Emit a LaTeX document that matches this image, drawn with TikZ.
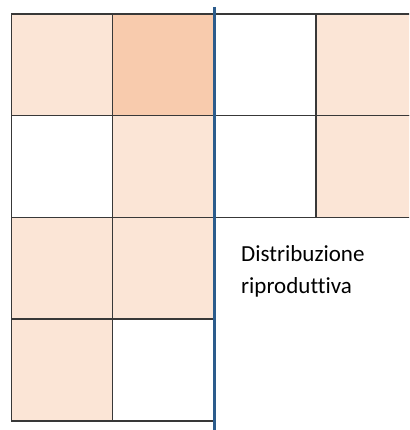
\documentclass[tikz,border=0pt]{standalone}
\usepackage{fontspec}
\setmainfont{Carlito}[Ligatures=NoCommon]
\definecolor{cellL}{HTML}{FBE5D6}
\definecolor{cellD}{HTML}{F8CBAD}
\definecolor{gridline}{HTML}{383838}
\definecolor{divider}{RGB}{44,92,140}
\tikzset{
  cell/.style={draw=none, minimum width=101pt, minimum height=101.75pt, inner sep=0pt, anchor=north west, outer sep=0pt},
  lite/.style={cell, fill=cellL},
  dark/.style={cell, fill=cellD},
  blank/.style={cell, fill=white},
  border/.style={draw=gridline, line width=1.5pt},
  divline/.style={draw=divider, line width=3pt},
  lbl/.style={font=\fontsize{23}{32}\selectfont, align=left, inner sep=0pt, anchor=base west}
}
\begin{document}
\begin{tikzpicture}[x=1pt,y=1pt]
\useasboundingbox (0,0) rectangle (409,430);
\clip (0,0) rectangle (409,430);
% left grid
\node[lite]  (a11) at (11.5,416) {};
\node[dark]  (a12) at (112.5,416) {};
\node[blank] (a21) at (11.5,314.25) {};
\node[lite]  (a22) at (112.5,314.25) {};
\node[lite]  (a31) at (11.5,212.5) {};
\node[lite]  (a32) at (112.5,212.5) {};
\node[lite]  (a41) at (11.5,110.75) {};
\node[blank] (a42) at (112.5,110.75) {};
% right grid
\node[blank, minimum width=102pt] (b11) at (214,416) {};
\node[lite, minimum width=104pt]  (b12) at (316,416) {};
\node[blank, minimum width=102pt] (b21) at (214,314.25) {};
\node[lite, minimum width=104pt]  (b22) at (316,314.25) {};
% borders on top
\foreach \c in {a11,a12,a21,a22,a31,a32,a41,a42,b11,b12,b21,b22}
  \draw[border] (\c.north west) rectangle (\c.south east);
% divider
\coordinate (dtop) at (214,423);
\coordinate (dbot) at (214,0);
\draw[divline] (dtop) -- (dbot);
% label
\node[lbl] (txt) at (241,136) {Distribuzione\\riproduttiva};
\end{tikzpicture}
\end{document}
